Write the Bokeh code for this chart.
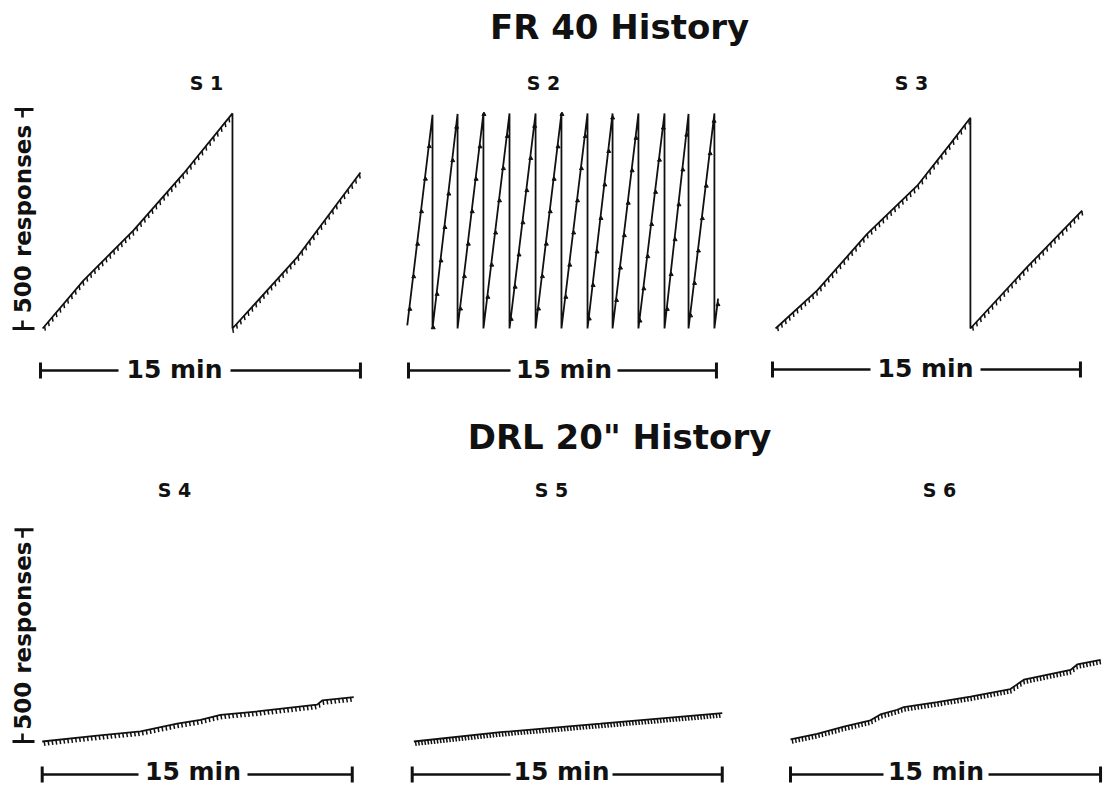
import numpy as np
from bokeh.plotting import figure
from bokeh.layouts import column, row
from bokeh.models import Label
from bokeh.embed import file_html
from bokeh.resources import INLINE

# ---------------- data (minutes, cumulative responses) ----------------
headings = ["FR 40  History", 'DRL 20" History']
panel_names = ["S 1", "S 2", "S 3", "S 4", "S 5", "S 6"]
session_min = 15
scale_responses = 500

s1_t = [0.10, 2.02, 4.36, 6.71, 9.00, 9.00, 12.04, 15.00]
s1_r = [0, 110, 224, 354, 491, 0, 163, 356]

s2_start_t, s2_start_r = -0.06, 7
s2_reset_t = [1.17, 2.39, 3.65, 4.92, 6.19, 7.45, 8.72, 9.94, 11.20, 12.47, 13.64, 14.90]
s2_peak_r = [488, 490, 491, 491, 491, 491, 491, 491, 491, 491, 490, 491]
s2_end_t, s2_end_r = 15.08, 68

s3_t = [0.15, 2.18, 4.61, 7.05, 8.67, 9.64, 9.64, 12.40, 15.08]
s3_r = [0, 87, 216, 326, 422, 481, 0, 140, 269]

s4_t = [0.00, 2.66, 4.76, 6.53, 7.66, 8.63, 10.40, 13.30, 13.55, 15.07]
s4_r = [0, 14, 24, 42, 51, 63, 71, 87, 97, 105]

s5_t = [0.08, 4.27, 9.11, 15.00]
s5_r = [0, 22, 42, 67]

s6_t = [0.00, 1.29, 2.58, 3.87, 4.35, 5.16, 5.48, 7.10, 8.71, 10.64, 11.29, 13.55, 13.87, 15.00]
s6_r = [5, 18, 35, 50, 64, 75, 81, 93, 106, 124, 146, 169, 182, 193]

# spacing of the recorder's event marks along each record (minutes)
pip_dt = [0.18, 0.19, 0.19, 0.19, 0.15, 0.16]

# build the S2 sawtooth table from its resets
s2_t = [s2_start_t]
s2_r = [s2_start_r]
for rt, pk in zip(s2_reset_t, s2_peak_r):
    s2_t += [rt, rt]
    s2_r += [pk, 0]
s2_t.append(s2_end_t)
s2_r.append(s2_end_r)

records = [(s1_t, s1_r), (s2_t, s2_r), (s3_t, s3_r), (s4_t, s4_r), (s5_t, s5_r), (s6_t, s6_r)]

# ---------------- layout (page pixels) ----------------
INK = "#111111"
FONT = "DejaVu Sans"
TOTAL_W = 1109
BASE_SHIFT = 0.4  # em; compensates the renderer's baseline offset

# X0, X1, x of t=0, px per minute, Y0, Y1, baseline y, px per response
geom = [
    (0, 385, 40.0, 21.33, 60, 400, 328, 0.438),
    (385, 750, 408.0, 20.53, 60, 400, 328, 0.438),
    (750, 1109, 772.0, 20.53, 60, 400, 328, 0.438),
    (0, 385, 41.7, 20.67, 462, 788, 741, 0.4233),
    (385, 765, 411.7, 20.67, 462, 788, 741, 0.4233),
    (765, 1109, 790.0, 20.67, 462, 788, 741, 0.4233),
]
# label centre x (page px), label baseline y (page px)
name_pos = [(206, 90), (543, 90), (911, 90), (174, 497), (551, 497), (939, 497)]
# 15-min bar: bar y, text baseline y, gap left/right in page px
bar_pos = [
    (370, 379, 118, 230),
    (370, 379, 510, 617),
    (369, 378, 870, 980),
    (774, 781, 138, 247),
    (774, 781, 510, 612),
    (774, 781, 883, 988),
]
NAME_FS, BAR_FS, HEAD_FS, SCALE_FS = 19, 25, 34, 23


def pips(ts, rs, dt):
    out_t, out_r = [], []
    grid = np.arange(ts[0] + dt * 0.5, ts[-1], dt)
    for g in grid:
        for a in range(len(ts) - 1):
            t0, t1 = ts[a], ts[a + 1]
            if t1 > t0 and t0 <= g < t1:
                f = (g - t0) / (t1 - t0)
                out_t.append(g)
                out_r.append(rs[a] + f * (rs[a + 1] - rs[a]))
                break
    return np.array(out_t), np.array(out_r)


def make_panel(i):
    X0, X1, Xt, k, Y0, Y1, Yb, s = geom[i]
    px = lambda X: (X - Xt) / k
    py = lambda Y: (Yb - Y) / s
    p = figure(width=X1 - X0, height=Y1 - Y0,
               x_range=(px(X0), px(X1)), y_range=(py(Y1), py(Y0)),
               x_axis_type=None, y_axis_type=None,
               output_backend="svg", toolbar_location=None,
               min_border=0, min_border_left=0, min_border_right=0,
               min_border_top=0, min_border_bottom=0)
    p.grid.visible = False
    p.outline_line_color = None
    p.background_fill_color = "white"
    p.border_fill_color = "white"

    ts, rs = records[i]
    p.line(ts, rs, line_color=INK, line_width=1.8)

    pt, pr = pips(ts, rs, pip_dt[i])
    if i == 1:
        p.scatter(pt + 0.03, pr, size=4, color=INK, marker="triangle")
    else:
        p.segment(x0=pt, x1=pt + 0.8 / k, y0=pr, y1=pr - 4.5 / s,
                  line_color=INK, line_width=1.5)

    # panel name
    nx, ny = name_pos[i]
    p.add_layout(Label(x=px(nx), y=py(ny - BASE_SHIFT * NAME_FS), text=panel_names[i],
                       text_align="center", text_baseline="alphabetic", text_font=FONT,
                       text_font_style="bold", text_font_size="%dpx" % NAME_FS, text_color=INK))

    # 15-min bar
    by, tyb, gl, gr = bar_pos[i]
    p.segment(x0=[0, px(gr)], x1=[px(gl), session_min], y0=[py(by)] * 2, y1=[py(by)] * 2,
              line_color=INK, line_width=2.6)
    p.segment(x0=[0, session_min], x1=[0, session_min],
              y0=[py(by - 8)] * 2, y1=[py(by + 8)] * 2, line_color=INK, line_width=3)
    p.add_layout(Label(x=px((gl + gr) / 2), y=py(tyb - BASE_SHIFT * BAR_FS),
                       text="%d min" % session_min, text_align="center",
                       text_baseline="alphabetic", text_font=FONT, text_font_style="bold",
                       text_font_size="%dpx" % BAR_FS, text_color=INK))

    # 500-response bar on left column
    if i in (0, 3):
        xc = px(22)
        p.segment(x0=[px(12), px(14)], x1=[px(34), px(33)],
                  y0=[0, scale_responses], y1=[0, scale_responses],
                  line_color=INK, line_width=3)
        p.segment(x0=[xc, xc], x1=[xc, xc], y0=[0, scale_responses],
                  y1=[8 / s, scale_responses - 8 / s],
                  line_color=INK, line_width=2.6)
        p.add_layout(Label(x=xc, y=scale_responses / 2, angle=np.pi / 2,
                           text="%d responses" % scale_responses, text_align="center",
                           text_baseline="middle", text_font=FONT, text_font_style="bold",
                           text_font_size="%dpx" % SCALE_FS, text_color=INK))
    return p


def make_heading(text, Y0, Y1, cx, base):
    h = figure(width=TOTAL_W, height=Y1 - Y0, x_range=(0, TOTAL_W), y_range=(Y1, Y0),
               x_axis_type=None, y_axis_type=None, output_backend="svg",
               toolbar_location=None, min_border=0, min_border_left=0, min_border_right=0,
               min_border_top=0, min_border_bottom=0)
    h.grid.visible = False
    h.outline_line_color = None
    h.add_layout(Label(x=cx, y=base - BASE_SHIFT * HEAD_FS, text=text, text_align="center",
                       text_baseline="alphabetic", text_font=FONT, text_font_style="bold",
                       text_font_size="%dpx" % HEAD_FS, text_color=INK))
    return h


panels = [make_panel(i) for i in range(6)]
h1 = make_heading(headings[0], 0, 60, 625, 40)
h2 = make_heading(headings[1], 400, 462, 619, 450)

layout = column(h1, row(*panels[:3], spacing=0), h2, row(*panels[3:], spacing=0), spacing=0)

open("out.html", "w").write(file_html(layout, INLINE))
